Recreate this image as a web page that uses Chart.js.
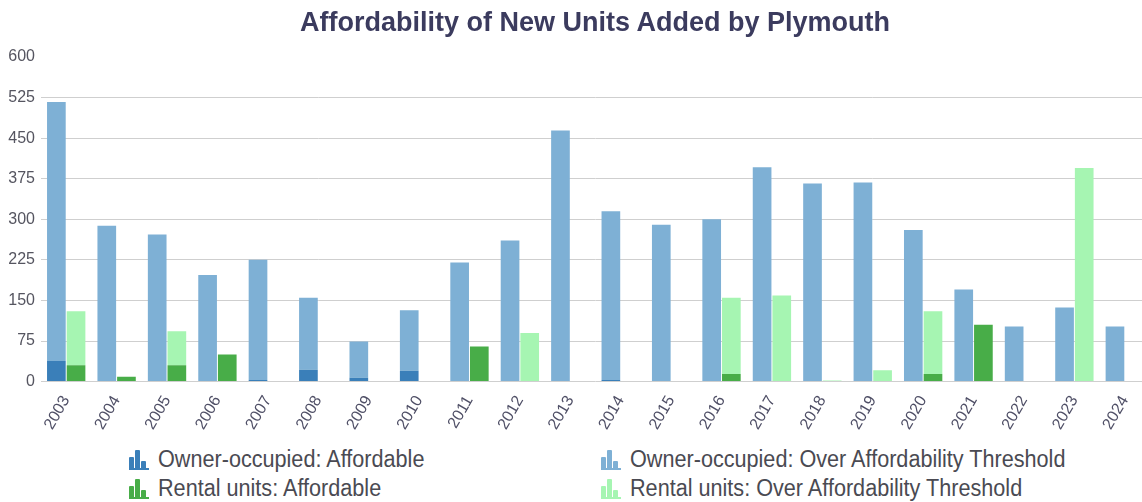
<!DOCTYPE html>
<html>
<head>
<meta charset="utf-8">
<script src="https://cdn.jsdelivr.net/npm/chart.js@4"></script>
<style>
    html, body { margin: 0; padding: 0; background: #fff; overflow: hidden; }
    #wrap { width: 1152px; height: 436px; position: relative; }
    #title { position: absolute; top: 6px; left: 595px; transform: translateX(-50%); white-space: nowrap;
        font-family: "Liberation Sans", Arial, sans-serif; font-size: 27px; font-weight: bold; color: #3b3b5e; line-height: 32px; }
    .legend { position: absolute; top: 446px; left: 0; width: 1142px; font-family: "Liberation Sans", Arial, sans-serif; font-size: 23px; color: #4a4a52; }
    .legend .item { position: absolute; display: flex; align-items: center; white-space: nowrap; height: 27px; }
    .legend svg { margin-right: 8px; flex: none; }
    .legend span { display: inline-block; transform: scaleX(0.94); transform-origin: left center; }
</style>
</head>
<body>
<div id="wrap"><canvas id="unitsChart"></canvas></div>
<div id="title">Affordability of New Units Added by Plymouth</div>
<div class="legend" id="legend"></div>
<script>
// Chart data
const years = ['2003', '2004', '2005', '2006', '2007', '2008', '2009', '2010', '2011', '2012', '2013',
    '2014', '2015', '2016', '2017', '2018', '2019', '2020', '2021', '2022', '2023', '2024'];
const ownerAffordable = [38, 0, 0, 0, 3, 22, 7, 20, 0, 0, 0, 3, 0, 0, 0, 0, 0, 0, 0, 0, 0, 0];
const ownerOver = [479, 288, 272, 197, 222, 133, 67, 112, 220, 261, 464, 312, 290, 300, 396, 366, 368, 280, 170, 102, 137, 102];
const rentalAffordable = [30, 9, 30, 50, 0, 0, 0, 0, 65, 0, 0, 0, 0, 14, 0, 0, 0, 14, 105, 0, 0, 0];
const rentalOver = [100, 0, 63, 0, 0, 0, 0, 0, 0, 90, 0, 0, 0, 141, 159, 2, 21, 116, 0, 0, 395, 0];
const yTicks = [0, 75, 150, 225, 300, 375, 450, 525, 600];

const seriesInfo = [
    { label: 'Owner-occupied: Affordable', data: ownerAffordable, color: '#3a7fb9', stack: 'owner' },
    { label: 'Owner-occupied: Over Affordability Threshold', data: ownerOver, color: '#7eb0d5', stack: 'owner' },
    { label: 'Rental units: Affordable', data: rentalAffordable, color: '#48ad48', stack: 'rental' },
    { label: 'Rental units: Over Affordability Threshold', data: rentalOver, color: '#a6f5b2', stack: 'rental' }
];

const ctx = document.getElementById('unitsChart');
new Chart(ctx, {
    type: 'bar',
    data: {
        labels: years,
        datasets: seriesInfo.map(s => ({
            label: s.label,
            data: s.data,
            stack: s.stack,
            backgroundColor: s.color,
            borderWidth: 0,
            barPercentage: 0.95,
            categoryPercentage: 0.78
        }))
    },
    options: {
        responsive: true,
        maintainAspectRatio: false,
        animation: false,
        // title is drawn in html (centred over the plot), so leave room on top
        layout: { padding: { left: 0, right: 2, top: 57, bottom: 0 } },
        scales: {
            x: {
                stacked: true,
                grid: { display: false },
                border: { display: false },
                ticks: {
                    color: '#4f4f66',
                    font: { family: 'Liberation Sans, Arial, sans-serif', size: 16 },
                    maxRotation: 60,
                    minRotation: 60,
                    autoSkip: false
                }
            },
            y: {
                stacked: true,
                min: 0,
                max: 600,
                afterFit: scale => { scale.width = 41; },
                afterBuildTicks: scale => { scale.ticks = yTicks.map(v => ({ value: v })); },
                border: { display: false },
                grid: {
                    color: ctx => (ctx.tick && ctx.tick.value === 600) ? 'rgba(0,0,0,0)' : '#cfcfcf',
                    drawTicks: false
                },
                ticks: {
                    color: '#555560',
                    padding: 6,
                    font: { family: 'Liberation Sans, Arial, sans-serif', size: 16 }
                }
            }
        },
        plugins: {
            legend: { display: false },
            tooltip: { enabled: false },
            title: { display: false }
        }
    }
});

// Legend with little bar icons, two columns
function barIcon(color) {
    return '<svg width="22" height="21" viewBox="0 0 22 21">' +
        '<rect x="1" y="8" width="5" height="12" rx="1" fill="' + color + '"/>' +
        '<rect x="7" y="1" width="5" height="19" rx="1" fill="' + color + '"/>' +
        '<rect x="13" y="12" width="5" height="8" rx="1" fill="' + color + '"/>' +
        '<rect x="1" y="19" width="20" height="2" fill="' + color + '"/></svg>';
}
const legendPos = [[128, 0], [600, 0], [128, 29], [600, 29]];
const legend = document.getElementById('legend');
seriesInfo.forEach((s, i) => {
    const el = document.createElement('div');
    el.className = 'item';
    el.style.left = legendPos[i][0] + 'px';
    el.style.top = legendPos[i][1] + 'px';
    el.innerHTML = barIcon(s.color) + '<span>' + s.label + '</span>';
    legend.appendChild(el);
});
</script>
</body>
</html>
